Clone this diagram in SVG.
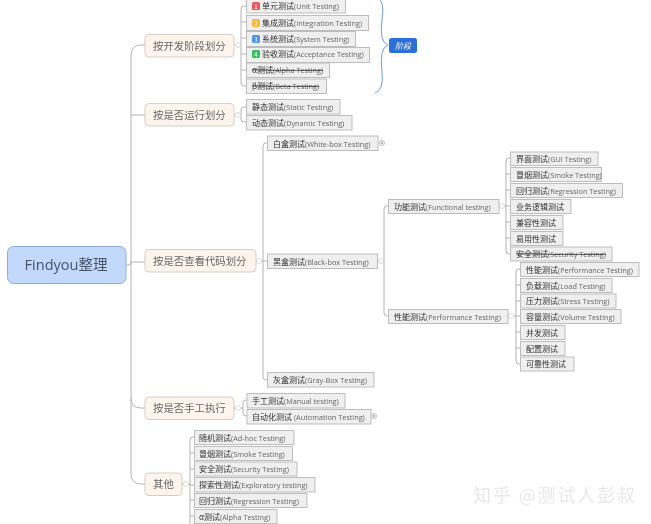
<svg xmlns="http://www.w3.org/2000/svg" width="651" height="524" viewBox="0 0 651 524">
<style>
text{font-family:"Noto Sans CJK SC","Noto Sans",sans-serif}
.l rect{fill:#efefef;stroke:#bdbdbd;stroke-width:1}
.l text{font-size:8px;fill:#2e2e2e;font-family:"Noto Sans CJK SC",sans-serif}
.l tspan{font-family:"Open Sans","Noto Sans CJK SC",sans-serif;font-size:7.3px;fill:#666}
.x text{text-decoration:line-through}
.c rect{fill:#fdf4ec;stroke:#d6cdc4;stroke-width:1}
.c text{font-size:10.4px;fill:#666;font-family:"Noto Sans CJK SC",sans-serif}
.b{fill:none;stroke:#b2b2b2;stroke-width:1}
.o{fill:#fff;stroke:#d2d2d2;stroke-width:.8}
.n{font-size:6px;fill:#fff;text-anchor:middle;font-family:"Liberation Sans",sans-serif}
</style>
<defs><filter id="s" x="-2%" y="-2%" width="104%" height="104%"><feGaussianBlur stdDeviation="0.42"/></filter></defs>
<rect width="651" height="524" fill="#fff"/>
<g filter="url(#s)">
<g id="connectors">
<path class="b" d="M126 265H129Q131 265 131 262V56Q131 45 141 45H145M131 115H145M131 262H145M131 398Q131 408 141 408H145M131 262V474Q131 484 141 484H145"/>
<path class="b" d="M234 45H241M246 6H244Q241 6 241 9V83Q241 86 244 86H246M241 22H246M241 38H246M241 54H246M241 70H246"/>
<path class="b" d="M234 115H241M246 107H244Q241 107 241 110V119Q241 122 244 122H246"/>
<path class="b" d="M256 261H263M267 143H266Q263 143 263 146V377Q263 380 266 380H267M263 261H267"/>
<path class="b" d="M378 261H384M388 206H387Q384 206 384 209V313Q384 316 387 316H388"/>
<path class="b" d="M499 206H510M510 158H509Q506 158 506 161V251Q506 254 509 254H510M506 174H510M506 190H510M506 222H510M506 238H510"/>
<path class="b" d="M508 316H520M520 269H519Q516 269 516 272V361Q516 364 519 364H520M516 285H520M516 301H520M516 332H520M516 348H520"/>
<path class="b" d="M234 408H243M247 400H246Q243 400 243 403V413Q243 416 246 416H247"/>
<path class="b" d="M182 484H190M194 437H193Q190 437 190 440V524M190 453H194M190 469H194M190 485H194M190 500H194M190 516H194"/>
<path fill="none" stroke="#6f9bd8" stroke-width="1" d="M378 -2Q385 2 382 20Q379 42 388 45Q379 48 382 72Q384 90 375 93"/>
<circle class="o" cx="238" cy="45" r="2.5"/><circle class="o" cx="238" cy="115" r="2.5"/><circle class="o" cx="259" cy="261" r="2.5"/><circle class="o" cx="381" cy="261" r="2.5"/><circle class="o" cx="502" cy="206" r="2.5"/><circle class="o" cx="511" cy="316" r="2.5"/><circle class="o" cx="238" cy="408" r="2.5"/><circle class="o" cx="186" cy="484" r="2.5"/>
<circle class="o" cx="382" cy="143" r="2.5" style="stroke:#aaa"/><circle cx="382" cy="143" r="1" fill="#999"/>
<circle class="o" cx="374" cy="416" r="2.5" style="stroke:#aaa"/><circle cx="374" cy="416" r="1" fill="#999"/>
</g>
<g id="root"><rect x="7.5" y="246.5" width="118.5" height="37" rx="6" fill="#c3d9fb" stroke="#8eaedd"/><text x="66" y="270" font-size="14.5" fill="#44546a" text-anchor="middle" style="font-family:'Open Sans','Noto Sans CJK SC',sans-serif">Findyou整理</text></g>
<g id="cat1" class="c"><rect x="145" y="34.5" width="89" height="22.5" rx="4"/><text x="153" y="49.5">按开发阶段划分</text></g>
<g id="cat2" class="c"><rect x="145" y="103.5" width="89" height="22.5" rx="4"/><text x="153" y="118.5">按是否运行划分</text></g>
<g id="cat3" class="c"><rect x="145" y="249.5" width="111" height="22.5" rx="4"/><text x="153" y="264.5">按是否查看代码划分</text></g>
<g id="cat4" class="c"><rect x="145" y="397" width="89" height="22.5" rx="4"/><text x="153" y="412">按是否手工执行</text></g>
<g id="cat5" class="c"><rect x="145" y="473" width="37" height="22.5" rx="4"/><text x="153" y="488">其他</text></g>
<g id="u1" class="l"><rect x="246.5" y="-2" width="99" height="15"/><rect x="252" y="2" width="8" height="8" rx="1.5" style="fill:#e8595a;stroke:none"/><text class="n" x="256" y="8.5" style="fill:#fff;font-size:6px">1</text><text x="262" y="9">单元测试<tspan>(Unit Testing)</tspan></text></g>
<g id="u2" class="l"><rect x="246.5" y="15.5" width="122" height="15"/><rect x="252" y="19" width="8" height="8" rx="1.5" style="fill:#f6b73c;stroke:none"/><text class="n" x="256" y="25.5" style="fill:#fff;font-size:6px">2</text><text x="262" y="26">集成测试<tspan>(Integration Testing)</tspan></text></g>
<g id="u3" class="l"><rect x="246.5" y="31.5" width="109" height="15"/><rect x="252" y="35" width="8" height="8" rx="1.5" style="fill:#4f93e6;stroke:none"/><text class="n" x="256" y="41.5" style="fill:#fff;font-size:6px">3</text><text x="262" y="42">系统测试<tspan>(System Testing)</tspan></text></g>
<g id="u4" class="l"><rect x="246.5" y="47.5" width="123" height="15"/><rect x="252" y="50" width="8" height="8" rx="1.5" style="fill:#2fc45a;stroke:none"/><text class="n" x="256" y="56.5" style="fill:#fff;font-size:6px">4</text><text x="262" y="57">验收测试<tspan>(Acceptance Testing)</tspan></text></g>
<g id="u5" class="l x"><rect x="246.5" y="63" width="83" height="14.5"/><text x="252" y="73">α测试<tspan>(Alpha Testing)</tspan></text></g>
<g id="u6" class="l x"><rect x="246.5" y="79" width="80" height="14.5"/><text x="252" y="89">β测试<tspan>(Beta Testing)</tspan></text></g>
<g id="badge"><rect x="389" y="38" width="28" height="15" rx="2.5" fill="#2a6fd6"/><text x="403" y="48.5" font-size="8" fill="#fff" text-anchor="middle" font-style="italic">阶段</text></g>
<g id="r1" class="l"><rect x="246.5" y="99.5" width="93.5" height="14.5"/><text x="252" y="110">静态测试<tspan>(Static Testing)</tspan></text></g>
<g id="r2" class="l"><rect x="246.5" y="115.5" width="105.5" height="14.5"/><text x="252" y="126">动态测试<tspan>(Dynamic Testing)</tspan></text></g>
<g id="w" class="l"><rect x="267.5" y="136" width="110.5" height="14.5"/><text x="273" y="146.5">白盒测试<tspan>(White-box Testing)</tspan></text></g>
<g id="k" class="l"><rect x="267.5" y="254" width="110" height="14.5"/><text x="273" y="264.5">黑盒测试<tspan>(Black-box Testing)</tspan></text></g>
<g id="g" class="l"><rect x="267.5" y="372.5" width="106.5" height="14.5"/><text x="273" y="383">灰盒测试<tspan>(Gray-Box Testing)</tspan></text></g>
<g id="f" class="l"><rect x="388.5" y="199.5" width="110.5" height="14"/><text x="394" y="209.5">功能测试<tspan>(Functional testing)</tspan></text></g>
<g id="p" class="l"><rect x="388.5" y="309.5" width="119.5" height="14"/><text x="394" y="319.5">性能测试<tspan>(Performance Testing)</tspan></text></g>
<g id="f1" class="l"><rect x="510.5" y="152" width="87.5" height="13.5"/><text x="516" y="162">界面测试<tspan>(GUI Testing)</tspan></text></g>
<g id="f2" class="l"><rect x="510.5" y="167.5" width="91" height="14"/><text x="516" y="177.5">冒烟测试<tspan>(Smoke Testing)</tspan></text></g>
<g id="f3" class="l"><rect x="510.5" y="183.5" width="112" height="14"/><text x="516" y="193.5">回归测试<tspan>(Regression Testing)</tspan></text></g>
<g id="f4" class="l"><rect x="510.5" y="199.5" width="60.5" height="14"/><text x="516" y="209.5">业务逻辑测试</text></g>
<g id="f5" class="l"><rect x="510.5" y="215.5" width="52.5" height="14"/><text x="516" y="225.5">兼容性测试</text></g>
<g id="f6" class="l"><rect x="510.5" y="231.5" width="52.5" height="14"/><text x="516" y="241.5">易用性测试</text></g>
<g id="f7" class="l x"><rect x="510.5" y="247" width="101.5" height="14"/><text x="516" y="257">安全测试<tspan>(Security Testing)</tspan></text></g>
<g id="p1" class="l"><rect x="520.5" y="262.5" width="118.5" height="14"/><text x="526" y="272.5">性能测试<tspan>(Performance Testing)</tspan></text></g>
<g id="p2" class="l"><rect x="520.5" y="278.5" width="91.5" height="14"/><text x="526" y="288.5">负载测试<tspan>(Load Testing)</tspan></text></g>
<g id="p3" class="l"><rect x="520.5" y="294" width="95.5" height="14"/><text x="526" y="304">压力测试<tspan>(Stress Testing)</tspan></text></g>
<g id="p4" class="l"><rect x="520.5" y="309.5" width="100.5" height="14"/><text x="526" y="319.5">容量测试<tspan>(Volume Testing)</tspan></text></g>
<g id="p5" class="l"><rect x="520.5" y="325.5" width="44.5" height="14"/><text x="526" y="335.5">并发测试</text></g>
<g id="p6" class="l"><rect x="520.5" y="341.5" width="44.5" height="14"/><text x="526" y="351.5">配置测试</text></g>
<g id="p7" class="l"><rect x="520.5" y="357" width="53.5" height="14"/><text x="526" y="367">可靠性测试</text></g>
<g id="m1" class="l"><rect x="247" y="393.5" width="98" height="14.5"/><text x="252" y="404">手工测试<tspan>(Manual testing)</tspan></text></g>
<g id="m2" class="l"><rect x="247" y="409.5" width="124" height="14.5"/><text x="252" y="420">自动化测试<tspan> (Automation Testing)</tspan></text></g>
<g id="o1" class="l"><rect x="194.5" y="430.5" width="99.5" height="14"/><text x="199" y="440.5">随机测试<tspan>(Ad-hoc Testing)</tspan></text></g>
<g id="o2" class="l"><rect x="194.5" y="446.5" width="98" height="14"/><text x="199" y="456.5">冒烟测试<tspan>(Smoke Testing)</tspan></text></g>
<g id="o3" class="l"><rect x="194.5" y="462" width="102.5" height="14"/><text x="199" y="472">安全测试<tspan>(Security Testing)</tspan></text></g>
<g id="o4" class="l"><rect x="194.5" y="477.5" width="120.5" height="14.5"/><text x="199" y="488">探索性测试<tspan>(Exploratory testing)</tspan></text></g>
<g id="o5" class="l"><rect x="194.5" y="493.5" width="112.5" height="14"/><text x="199" y="503.5">回归测试<tspan>(Regression Testing)</tspan></text></g>
<g id="o6" class="l"><rect x="194.5" y="509.5" width="82.5" height="14"/><text x="199" y="519.5">α测试<tspan>(Alpha Testing)</tspan></text></g>
<text x="473" y="502" font-size="18" fill="#e8e8e8" textLength="162" style="font-family:'Noto Sans CJK SC',sans-serif">知乎 @测试人彭叔</text>
</g>
</svg>
